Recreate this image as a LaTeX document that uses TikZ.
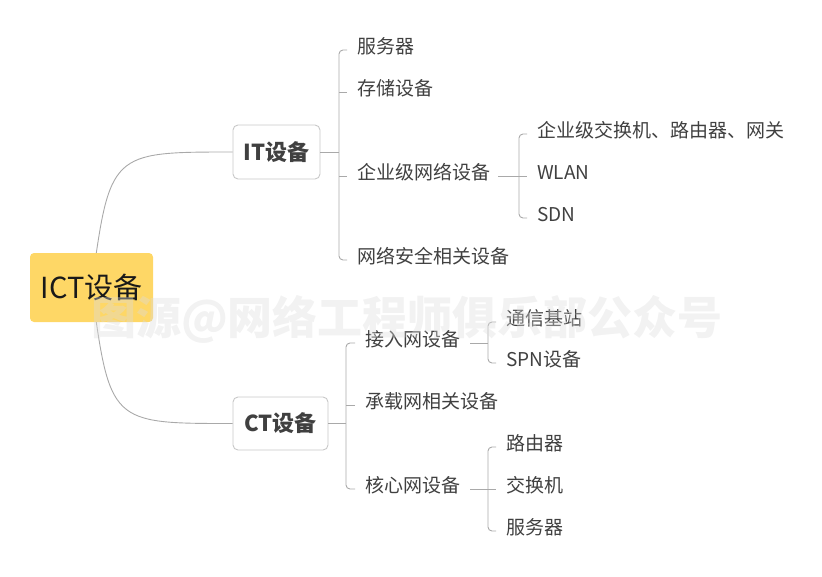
\documentclass[tikz,border=0pt]{standalone}
\usepackage{fontspec}
\setmainfont{Noto Sans CJK SC}
\usetikzlibrary{calc}
\definecolor{ictfill}{HTML}{FED766}
\definecolor{boxline}{HTML}{C8C8C8}
\definecolor{conncol}{HTML}{A9A9A9}
\definecolor{txt}{HTML}{404040}
\definecolor{wmcol}{HTML}{DCDCDC}
\begin{document}
\begin{tikzpicture}[x=1pt,y=-1pt,
  line/.style={draw=conncol,line width=0.9pt},
  brack/.style={draw=conncol,line width=0.9pt,rounded corners=4pt},
  leaf/.style={anchor=west,inner sep=0pt,yshift=-4pt,text=txt,font=\fontsize{19}{23}\selectfont,text height=0.88em,text depth=0.12em},
  sub/.style={draw=boxline,line width=0.9pt,rounded corners=5pt,fill=white,text=txt,font=\fontsize{22}{26}\selectfont\bfseries,inner sep=0pt},
  root/.style={fill=ictfill,rounded corners=4pt,minimum width=123pt,minimum height=69pt,inner sep=0pt,font=\fontsize{29}{34}\selectfont,text=black!90},
  wmark/.style={inner sep=0pt,font=\fontsize{45}{52}\selectfont\bfseries,text=wmcol,text opacity=0.38}
]
\useasboundingbox (0,0) rectangle (822,576);

% main boxes
\coordinate (ictc) at (91.5,287.5);
\node[sub,minimum width=87pt,minimum height=54pt] (it) at (276.5,152) {IT设备};
\node[sub,minimum width=95pt,minimum height=53pt] (ct) at (280.5,423.5) {CT设备};
\draw[line] (ictc) .. controls (110,152) .. (it.west);
\draw[line] (ictc) .. controls (110,423.5) .. (ct.west);
\node[root] (ict) at (ictc) {ICT设备};

% IT children
\node[leaf] (a1) at (357,46) {服务器};
\node[leaf] (a2) at (357,88) {存储设备};
\node[leaf] (a3) at (357,172) {企业级网络设备};
\node[leaf] (a4) at (357,256) {网络安全相关设备};
\draw[line] (it.east) -- (it.east -| {$(a4.west)+(-18,0)$});
\draw[brack] ([xshift=-10pt]a1.west) -| ([xshift=-18pt]a4.west) -- ([xshift=-10pt]a4.west);
\draw[line] ([xshift=-10pt]a2.west) -- ++(-8,0);
\draw[line] ([xshift=-10pt]a3.west) -- ++(-8,0);

% enterprise network children
\node[leaf] (b1) at (537,130) {企业级交换机、路由器、网关};
\node[leaf] (b2) at (537,172) {WLAN};
\node[leaf] (b3) at (537,214) {SDN};
\draw[line] ([xshift=8pt]a3.east) -- ([xshift=-10pt]b2.west);
\draw[brack] ([xshift=-10pt]b1.west) -| ([xshift=-18pt]b3.west) -- ([xshift=-10pt]b3.west);

% CT children
\node[leaf] (c1) at (365,339) {接入网设备};
\node[leaf] (c2) at (365,401) {承载网相关设备};
\node[leaf] (c3) at (365,485) {核心网设备};
\draw[line] (ct.east) -- (ct.east -| {$(c3.west)+(-19,0)$});
\draw[brack] ([xshift=-10pt]c1.west) -| ([xshift=-19pt]c3.west) -- ([xshift=-10pt]c3.west);
\draw[line] ([xshift=-10pt]c2.west) -- ++(-9,0);

% access network children
\node[leaf] (d1) at (506,318) {通信基站};
\node[leaf] (d2) at (506,359) {SPN设备};
\draw[line] ([xshift=10pt]c1.east) -- ([xshift=-18pt]d1.west |- c1.east);
\draw[brack] ([xshift=-10pt]d1.west) -| ([xshift=-18pt]d2.west) -- ([xshift=-10pt]d2.west);

% core network children
\node[leaf] (e1) at (506,443) {路由器};
\node[leaf] (e2) at (506,485) {交换机};
\node[leaf] (e3) at (506,527) {服务器};
\draw[line] ([xshift=10pt]c3.east) -- ([xshift=-10pt]e2.west);
\draw[brack] ([xshift=-10pt]e1.west) -| ([xshift=-18pt]e3.west) -- ([xshift=-10pt]e3.west);

% watermark
\node[wmark] (wm) at (407,319) {图源@网络工程师俱乐部公众号};
\end{tikzpicture}
\end{document}
